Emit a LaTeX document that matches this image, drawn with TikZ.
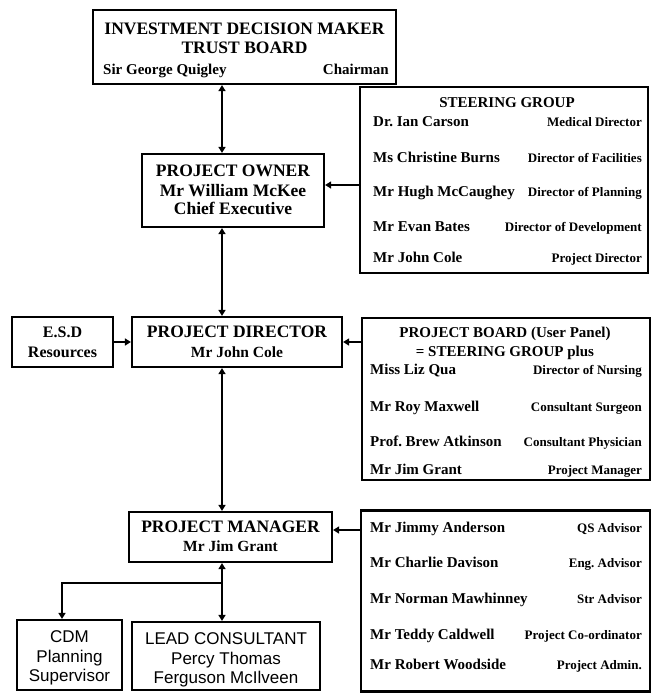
\documentclass[tikz,border=0pt]{standalone}
\usepackage{fontspec}
\setmainfont{Liberation Serif}
\setsansfont{Liberation Sans}
\usetikzlibrary{arrows.meta}
\frenchspacing
\tikzset{
  box/.style={draw, line width=2.2pt, inner sep=0pt},
  conn/.style={line width=2.2pt},
  arr/.style={conn, -{Triangle[length=6pt,width=7pt]}},
  darr/.style={conn, {Triangle[length=6pt,width=7pt]}-{Triangle[length=6pt,width=7pt]}},
  txt/.style={inner sep=0pt, anchor=mid, yshift=-2.5pt},
  hd/.style={txt, font=\fontsize{17.5}{20}\selectfont\bfseries},
  sub/.style={txt, font=\fontsize{15.5}{18}\selectfont\bfseries},
  ttl/.style={txt, font=\fontsize{15}{18}\selectfont\bfseries},
  nm/.style={inner sep=0pt, anchor=mid west, yshift=-2.5pt, font=\fontsize{15}{18}\selectfont\bfseries},
  rl/.style={inner sep=0pt, anchor=mid east, yshift=-2.5pt, font=\fontsize{13}{15}\selectfont\bfseries},
  sf/.style={txt, font=\fontsize{17}{20}\sffamily\selectfont},
}
\begin{document}
\begin{tikzpicture}[x=1pt,y=-1pt]
\useasboundingbox (0,0) rectangle (659,694);
% boxes
\node[box, minimum width=303pt, minimum height=74pt] (top) at (244.5,47) {};
\node[box, minimum width=288pt, minimum height=186pt] (steer) at (504,180) {};
\node[box, minimum width=182pt, minimum height=73pt] (owner) at (233,190.5) {};
\node[box, minimum width=101pt, minimum height=50pt] (esd) at (62.5,342) {};
\node[box, minimum width=210pt, minimum height=50pt] (pd) at (237,342) {};
\node[box, minimum width=288pt, minimum height=162pt] (board) at (506,399) {};
\node[box, minimum width=203pt, minimum height=50pt] (pm) at (230.5,537) {};
\node[box, minimum width=289pt, minimum height=181pt] (adv) at (505.5,601) {};
\node[box, minimum width=105pt, minimum height=70pt] (cdm) at (69.5,655) {};
\node[box, minimum width=188pt, minimum height=68pt] (lc) at (226,656) {};
% top box text
\node[hd] (top1) at (244.5,30) {INVESTMENT DECISION MAKER};
\node[hd] (top2) at (244.5,49) {TRUST BOARD};
\node[nm] (top3) at (103,70) {Sir George Quigley};
\node[inner sep=0pt, anchor=mid east, yshift=-2.5pt, font=\fontsize{15}{18}\selectfont\bfseries] (top4) at (389,70) {Chairman};
% steering group
\node[ttl] (sg0) at (507,103) {STEERING GROUP};
\node[nm] (sg1n) at (373,122) {Dr. Ian Carson};
\node[rl] (sg1r) at (642,122) {Medical Director};
\node[nm] (sg2n) at (373,158) {Ms Christine Burns};
\node[rl] (sg2r) at (642,158) {Director of Facilities};
\node[nm] (sg3n) at (373,192) {Mr Hugh McCaughey};
\node[rl] (sg3r) at (642,192) {Director of Planning};
\node[nm] (sg4n) at (373,227) {Mr Evan Bates};
\node[rl] (sg4r) at (642,227) {Director of Development};
\node[nm] (sg5n) at (373,258) {Mr John Cole};
\node[rl] (sg5r) at (642,258) {Project Director};
% owner
\node[hd] (ow1) at (233,172) {PROJECT OWNER};
\node[hd] (ow2) at (233,192) {Mr William McKee};
\node[hd] (ow3) at (233,210) {Chief Executive};
% esd
\node[sub, font=\fontsize{16}{18}\selectfont\bfseries] (esd1) at (62.5,333) {E.S.D};
\node[sub, font=\fontsize{16}{18}\selectfont\bfseries] (esd2) at (62.5,353) {Resources};
% project director
\node[hd] (pd1) at (237,333) {PROJECT DIRECTOR};
\node[sub] (pd2) at (237,353) {Mr John Cole};
% board
\node[ttl] (pb0) at (505,333) {PROJECT BOARD (User Panel)};
\node[ttl] (pb00) at (505,352) {= STEERING GROUP plus};
\node[nm] (pb1n) at (370,370) {Miss Liz Qua};
\node[rl] (pb1r) at (642,370) {Director of Nursing};
\node[nm] (pb2n) at (370,407) {Mr Roy Maxwell};
\node[rl] (pb2r) at (642,407) {Consultant Surgeon};
\node[nm] (pb3n) at (370,442) {Prof. Brew Atkinson};
\node[rl] (pb3r) at (642,442) {Consultant Physician};
\node[nm] (pb4n) at (370,470) {Mr Jim Grant};
\node[rl] (pb4r) at (642,470) {Project Manager};
% project manager
\node[hd] (pm1) at (230.5,528) {PROJECT MANAGER};
\node[sub] (pm2) at (230.5,547) {Mr Jim Grant};
% advisors
\node[nm] (ad1n) at (370,528) {Mr Jimmy Anderson};
\node[rl] (ad1r) at (642,528) {QS Advisor};
\node[nm] (ad2n) at (370,563) {Mr Charlie Davison};
\node[rl] (ad2r) at (642,563) {Eng. Advisor};
\node[nm] (ad3n) at (370,599) {Mr Norman Mawhinney};
\node[rl] (ad3r) at (642,599) {Str Advisor};
\node[nm] (ad4n) at (370,635) {Mr Teddy Caldwell};
\node[rl] (ad4r) at (642,635) {Project Co-ordinator};
\node[nm] (ad5n) at (370,665) {Mr Robert Woodside};
\node[rl] (ad5r) at (642,665) {Project Admin.};
% cdm
\node[sf] (cd1) at (69.5,638) {CDM};
\node[sf] (cd2) at (69.5,658) {Planning};
\node[sf] (cd3) at (69.5,677) {Supervisor};
% lead consultant
\node[sf] (lc1) at (226,640) {LEAD CONSULTANT};
\node[sf] (lc2) at (226,660) {Percy Thomas};
\node[sf] (lc3) at (226,679) {Ferguson McIlveen};
% connectors
\coordinate (sp) at (222,0);
\coordinate (cx) at (62,0);
\coordinate (br) at (222,583);
\coordinate (yso) at (0,185);
\coordinate (yad) at (0,530);
\draw[darr] (top.south -| sp) -- (owner.north -| sp);
\draw[darr] (owner.south -| sp) -- (pd.north -| sp);
\draw[darr] (pd.south -| sp) -- (pm.north -| sp);
\draw[darr] (pm.south -| sp) -- (lc.north -| sp);
\draw[arr] (br) -| (cdm.north -| cx);
\draw[arr] (yso -| steer.west) -- (yso -| owner.east);
\draw[arr] (esd.east) -- (pd.west);
\draw[arr] (board.west |- pd.east) -- (pd.east);
\draw[arr] (yad -| adv.west) -- (yad -| pm.east);
\end{tikzpicture}
\end{document}
